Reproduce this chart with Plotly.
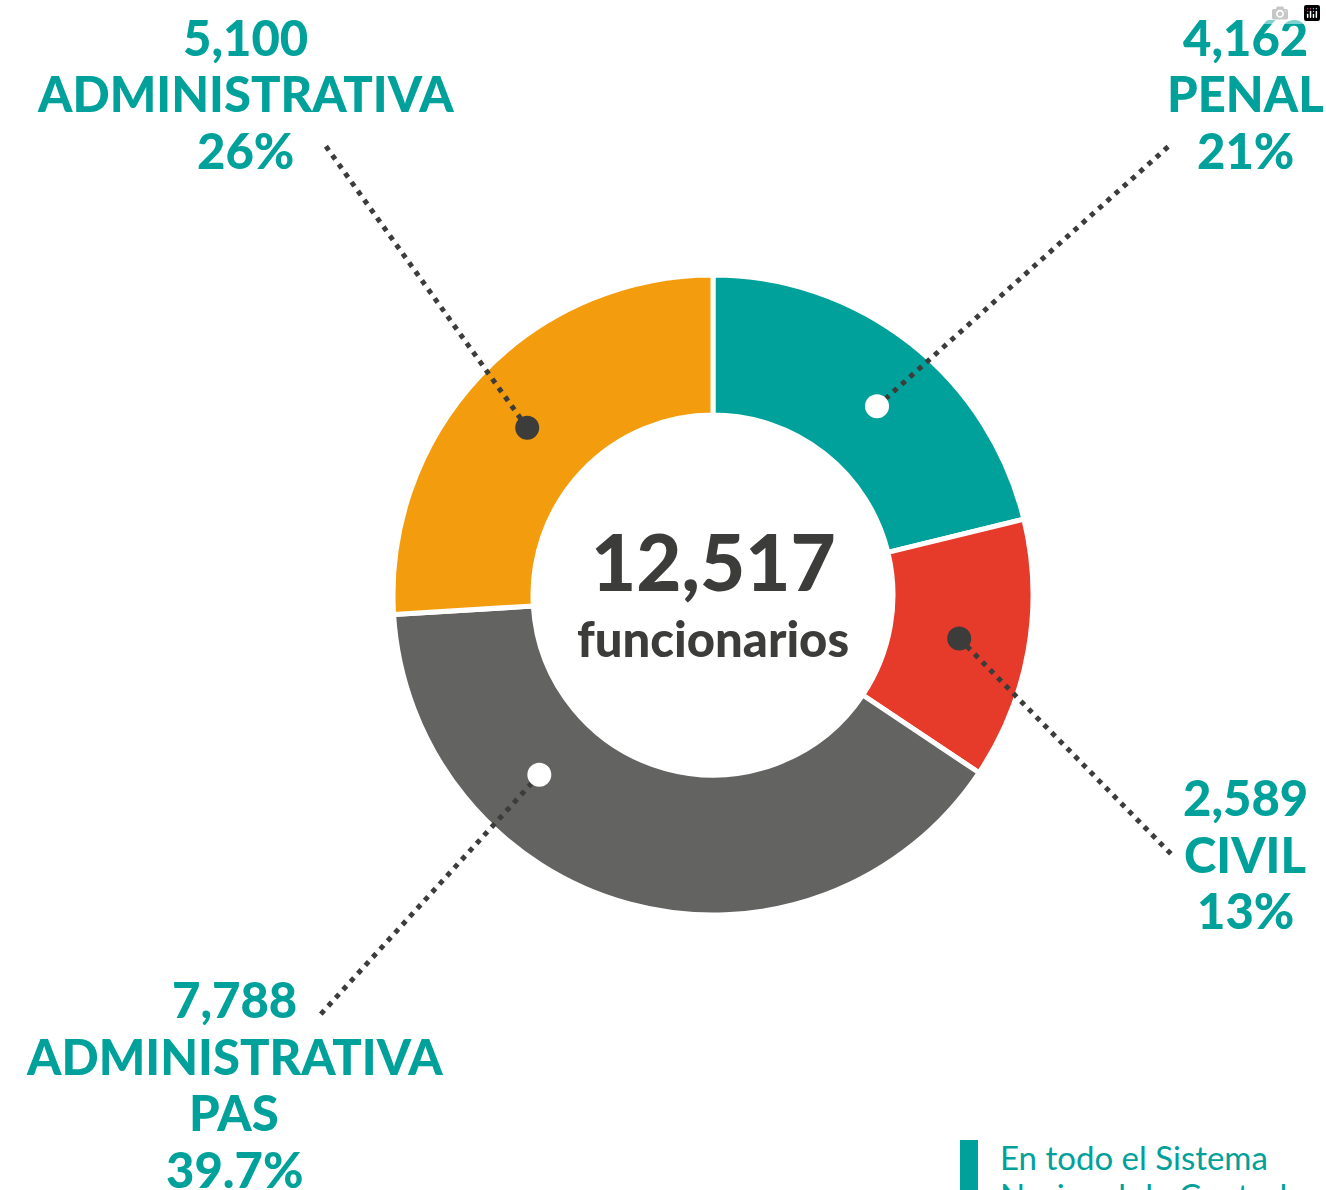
import math
import plotly.graph_objects as go

# ---------------- data ----------------
categories = ["PENAL", "CIVIL", "ADMINISTRATIVA PAS", "ADMINISTRATIVA"]
label_lines = [["PENAL"], ["CIVIL"], ["ADMINISTRATIVA", "PAS"], ["ADMINISTRATIVA"]]
values = [4162, 2589, 7788, 5100]
pct_labels = ["21%", "13%", "39.7%", "26%"]
colors = ["#00A19A", "#E63A2B", "#636362", "#F39C0D"]
total_label = "12,517"
subtitle = "funcionarios"
note_lines = ["En todo el Sistema", "Nacional de Control"]

# ---------------- layout constants ----------------
W, H = 1326, 1190
TEAL = "#00A19A"
DARK = "#3C3C3B"
CX, CY, R_OUT = 713, 595, 320
DOT_R, DOT_DIST = 12, 250
LINE_GAP = 56.5
NOTE_GAP = 38
FONT = "Lato"

# per slice: text center x, first-line center y, leader end x, leader end y, dot angle (deg from top, clockwise), dot colour
placement = [
    (1245, 37, 1170, 145, 41, "white"),
    (1245, 797, 1172, 855, 100, DARK),
    (234, 999, 320, 1015, 224, "white"),
    (245, 37, 325, 145, 312, DARK),
]


def px(x):
    return x / W


def py(y):
    return 1 - y / H


fig = go.Figure(
    go.Pie(
        values=values,
        labels=categories,
        sort=False,
        direction="clockwise",
        rotation=0,
        hole=0.5625,
        marker=dict(colors=colors, line=dict(color="white", width=5)),
        textinfo="none",
        hoverinfo="label+value+percent",
        showlegend=False,
        domain=dict(x=[px(CX - R_OUT), px(CX + R_OUT)], y=[py(CY + R_OUT), py(CY - R_OUT)]),
    )
)

annotations = []
shapes = []

for i, (tx, ty, lx, ly, ang, dotc) in enumerate(placement):
    lines = [f"{values[i]:,}"] + label_lines[i] + [pct_labels[i]]
    for k, t in enumerate(lines):
        annotations.append(
            dict(
                x=px(tx), y=py(ty + k * LINE_GAP), xref="paper", yref="paper",
                text=t, showarrow=False, xanchor="center", yanchor="middle",
                font=dict(family=FONT, size=49, color=TEAL, weight=900),
            )
        )
    a = math.radians(ang)
    dx = CX + DOT_DIST * math.sin(a)
    dy = CY - DOT_DIST * math.cos(a)
    shapes.append(
        dict(
            type="line", xref="paper", yref="paper",
            x0=px(dx), y0=py(dy), x1=px(lx), y1=py(ly),
            line=dict(color=DARK, width=5, dash="5px,6px"), layer="above",
        )
    )
    shapes.append(
        dict(
            type="circle", xref="paper", yref="paper",
            x0=px(dx - DOT_R), x1=px(dx + DOT_R), y0=py(dy + DOT_R), y1=py(dy - DOT_R),
            fillcolor=dotc, line=dict(width=0), layer="above",
        )
    )

# centre texts
annotations.append(
    dict(x=px(CX), y=py(561), xref="paper", yref="paper", text=total_label, showarrow=False,
         xanchor="center", yanchor="middle",
         font=dict(family=FONT, size=78, color=DARK, weight=900))
)
annotations.append(
    dict(x=px(CX), y=py(638), xref="paper", yref="paper", text=subtitle, showarrow=False,
         xanchor="center", yanchor="middle",
         font=dict(family=FONT, size=49, color=DARK, weight=900))
)

# note at bottom right
shapes.append(
    dict(type="rect", xref="paper", yref="paper", x0=px(960), x1=px(978), y0=py(1200), y1=py(1140),
         fillcolor=TEAL, line=dict(width=0), layer="above")
)
for k, t in enumerate(note_lines):
    annotations.append(
        dict(x=px(998), y=py(1157 + k * NOTE_GAP), xref="paper", yref="paper", text=t,
             showarrow=False, xanchor="left", yanchor="middle", align="left",
             font=dict(family=FONT, size=33, color=TEAL))
    )

fig.update_layout(
    width=W, height=H,
    margin=dict(l=0, r=0, t=0, b=0),
    paper_bgcolor="white", plot_bgcolor="white",
    annotations=annotations, shapes=shapes,
    showlegend=False,
)

fig.write_html(
    "out.html",
    post_script="document.body.style.margin='0';document.body.style.overflow='hidden';",
)
